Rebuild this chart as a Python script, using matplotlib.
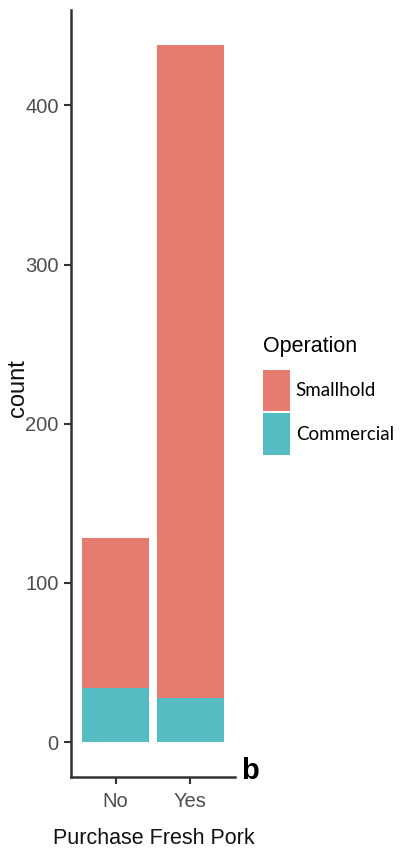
import matplotlib
matplotlib.use("Agg")
import matplotlib.pyplot as plt
from matplotlib.patches import Patch

# Counts of farms by whether they purchase fresh pork, split by operation type
categories = ["No", "Yes"]
commercial = [34, 28]
smallhold = [94, 410]
yticks = [0, 100, 200, 300, 400]

RED = "#E57B6E"
TEAL = "#54BCC2"
AXIS = "#333333"
TICKTXT = "#4D4D4D"
SANS = ["Liberation Sans Narrow", "Liberation Sans", "DejaVu Sans"]
LEGFONT = ["Lato", "DejaVu Sans"]

W, H = 400, 851
fig = plt.figure(figsize=(W / 100, H / 100), dpi=100)
ax = fig.add_axes([71 / W, 74 / H, 164 / W, 767 / H])

x = list(range(1, len(categories) + 1))
ax.bar(x, commercial, width=0.9, color=TEAL, linewidth=0)
ax.bar(x, smallhold, width=0.9, bottom=commercial, color=RED, linewidth=0)

totals = [c + s for c, s in zip(commercial, smallhold)]
top = max(totals)
ax.set_xlim(0.4, len(categories) + 0.6)
ax.set_ylim(-0.05 * top, top * 1.05)

ax.set_xticks(x)
ax.set_xticklabels(categories, family=SANS, fontsize=14.5, color=TICKTXT)
ax.set_yticks(yticks)
ax.set_yticklabels([str(v) for v in yticks], family=SANS, fontsize=14.5, color=TICKTXT)
ax.tick_params(axis="both", length=5, width=1.5, color=AXIS)
ax.tick_params(axis="x", pad=6)
ax.tick_params(axis="y", pad=4)

for side in ("top", "right"):
    ax.spines[side].set_visible(False)
for side in ("left", "bottom"):
    ax.spines[side].set_color(AXIS)
    ax.spines[side].set_linewidth(1.8)

ax.set_xlabel("Purchase Fresh Pork", family=SANS, fontsize=15.5, color="#111111")
ax.xaxis.set_label_coords((154 - 71) / 164, (H - 828 - 74) / 767)
ax.set_ylabel("count", family=SANS, fontsize=17, color="#111111")
ax.yaxis.set_label_coords((29 - 71) / 164, (H - 388 - 74) / 767)

fig.text(250 / W, 1 - 771 / H, "b", family=SANS,
         fontsize=21, fontweight="bold", ha="center", va="center", color="black")

handles = [Patch(facecolor=RED, edgecolor="none"), Patch(facecolor=TEAL, edgecolor="none")]
leg = fig.legend(handles, ["Smallhold", "Commercial"], loc="upper left",
                 bbox_to_anchor=(263 / W, 1 - 336 / H), frameon=False,
                 prop={"family": LEGFONT, "size": 13.5},
                 title="Operation", title_fontproperties={"family": SANS, "size": 15.5},
                 handlelength=1.45, handleheight=3.0, labelspacing=0.15,
                 handletextpad=0.3, borderaxespad=0, borderpad=0)
leg._legend_box.align = "left"
leg._legend_box.sep = 9

fig.savefig("out.png", dpi=100, facecolor="white")
